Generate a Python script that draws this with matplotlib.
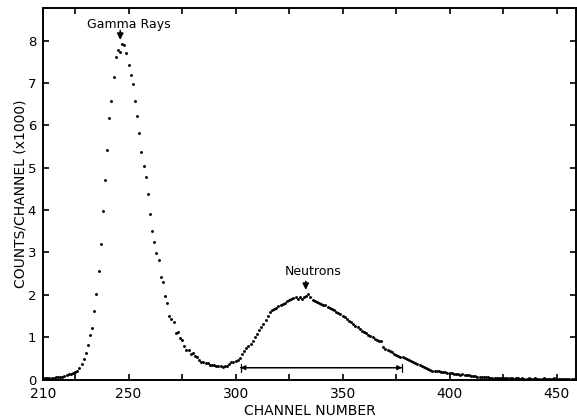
import matplotlib.pyplot as plt
import numpy as np

# Canais do espectro (210 a 459)
canais = np.arange(210, 460)

# Contagens por canal (x1000)
contagens = [
    0.03, 0.03, 0.03, 0.03, 0.04, 0.04, 0.05, 0.05, 0.06, 0.07,   # 210-219
    0.08, 0.10, 0.12, 0.14, 0.16, 0.18, 0.21, 0.28, 0.36, 0.48,   # 220-229
    0.63, 0.82, 1.05, 1.22, 1.61, 2.03, 2.56, 3.21, 3.97, 4.72,   # 230-239
    5.42, 6.17, 6.58, 7.15, 7.62, 7.77, 7.74, 7.92, 7.89, 7.70,   # 240-249
    7.43, 7.19, 6.97, 6.57, 6.21, 5.83, 5.38, 5.05, 4.77, 4.37,   # 250-259
    3.91, 3.51, 3.25, 2.98, 2.81, 2.42, 2.31, 1.96, 1.81, 1.51,   # 260-269
    1.43, 1.35, 1.09, 1.12, 0.99, 0.94, 0.78, 0.69, 0.69, 0.60,   # 270-279
    0.63, 0.56, 0.53, 0.45, 0.41, 0.41, 0.39, 0.39, 0.34, 0.34,   # 280-289
    0.35, 0.33, 0.31, 0.31, 0.30, 0.32, 0.33, 0.36, 0.41, 0.42,   # 290-299
    0.44, 0.46, 0.52, 0.60, 0.67, 0.75, 0.80, 0.85, 0.92, 1.00,   # 300-309
    1.08, 1.17, 1.23, 1.31, 1.41, 1.51, 1.59, 1.63, 1.67, 1.70,   # 310-319
    1.73, 1.76, 1.78, 1.81, 1.85, 1.88, 1.90, 1.92, 1.94, 1.90,   # 320-329
    1.94, 1.90, 1.94, 1.97, 2.01, 1.94, 1.88, 1.86, 1.84, 1.81,   # 330-339
    1.78, 1.75, 1.77, 1.71, 1.69, 1.66, 1.63, 1.59, 1.56, 1.54,   # 340-349
    1.50, 1.47, 1.42, 1.39, 1.35, 1.30, 1.26, 1.23, 1.19, 1.15,   # 350-359
    1.13, 1.09, 1.06, 1.03, 1.00, 0.96, 0.93, 0.91, 0.91, 0.76,   # 360-369
    0.73, 0.70, 0.67, 0.64, 0.61, 0.58, 0.56, 0.54, 0.53, 0.50,   # 370-379
    0.48, 0.45, 0.43, 0.41, 0.38, 0.36, 0.35, 0.32, 0.30, 0.28,   # 380-389
    0.25, 0.23, 0.21, 0.20, 0.20, 0.19, 0.18, 0.17, 0.17, 0.16,   # 390-399
    0.16, 0.15, 0.13, 0.13, 0.12, 0.11, 0.12, 0.10, 0.11, 0.11,   # 400-409
    0.09, 0.08, 0.08, 0.07, 0.06, 0.06, 0.05, 0.05, 0.05, 0.04,   # 410-419
    0.04, 0.04, 0.04, 0.03, 0.04, 0.03, 0.03, 0.04, 0.03, 0.03,   # 420-429
    0.02, 0.03, 0.03, 0.02, 0.03, 0.02, 0.02, 0.03, 0.02, 0.02,   # 430-439
    0.03, 0.02, 0.02, 0.02, 0.03, 0.02, 0.02, 0.02, 0.02, 0.03,   # 440-449
    0.02, 0.02, 0.02, 0.02, 0.02, 0.02, 0.02, 0.02, 0.02, 0.02,   # 450-459
]

# Eixos
xticks = [210, 225, 250, 275, 300, 325, 350, 375, 400, 425, 450]
xrotulos = ['210', '', '250', '', '300', '', '350', '', '400', '', '450']
yticks = [0, 1, 2, 3, 4, 5, 6, 7, 8]

# Intervalo dos nêutrons
faixa_neutrons = (302.3, 377.8)

plt.rcParams['font.family'] = 'DejaVu Sans'

fig = plt.figure(figsize=(5.77, 4.18), dpi=100)
ax = fig.add_axes([0.0745, 0.091, 0.9235, 0.89])

ax.plot(canais, contagens, 'o', color='black', markersize=2.1, markeredgewidth=0)

ax.set_xlim(210, 459)
ax.set_ylim(-0.01, 8.77)
ax.set_xticks(xticks)
ax.set_xticklabels(xrotulos, fontsize=10)
ax.set_yticks(yticks)
ax.set_yticklabels([str(v) for v in yticks], fontsize=9.5)
ax.tick_params(direction='in', length=4.5, width=1.2, top=True, right=True, pad=5)

for s in ax.spines.values():
    s.set_linewidth(1.4)

ax.set_xlabel('CHANNEL NUMBER', fontsize=10, labelpad=2)
ax.set_ylabel('COUNTS/CHANNEL (x1000)', fontsize=10, labelpad=0)

# Anotações
ax.text(250.3, 8.37, 'Gamma Rays', ha='center', va='center', fontsize=9)
ax.annotate('', xy=(246.1, 7.95), xytext=(246.1, 8.3),
            arrowprops=dict(arrowstyle='-|>', color='black', lw=1.2, mutation_scale=9))

ax.text(336.1, 2.55, 'Neutrons', ha='center', va='center', fontsize=9)
ax.annotate('', xy=(332.8, 2.05), xytext=(332.8, 2.38),
            arrowprops=dict(arrowstyle='-|>', color='black', lw=1.2, mutation_scale=9))

ax.annotate('', xy=(faixa_neutrons[0], 0.28), xytext=(faixa_neutrons[1], 0.28),
            arrowprops=dict(arrowstyle='<|-|>', color='black', lw=0.9,
                            mutation_scale=7, shrinkA=0, shrinkB=0))
ax.annotate('', xy=(faixa_neutrons[0], 0.28), xytext=(faixa_neutrons[1], 0.28),
            arrowprops=dict(arrowstyle='|-|', color='black', lw=0.9,
                            mutation_scale=3, shrinkA=0, shrinkB=0))

plt.savefig('out.png', dpi=100)
